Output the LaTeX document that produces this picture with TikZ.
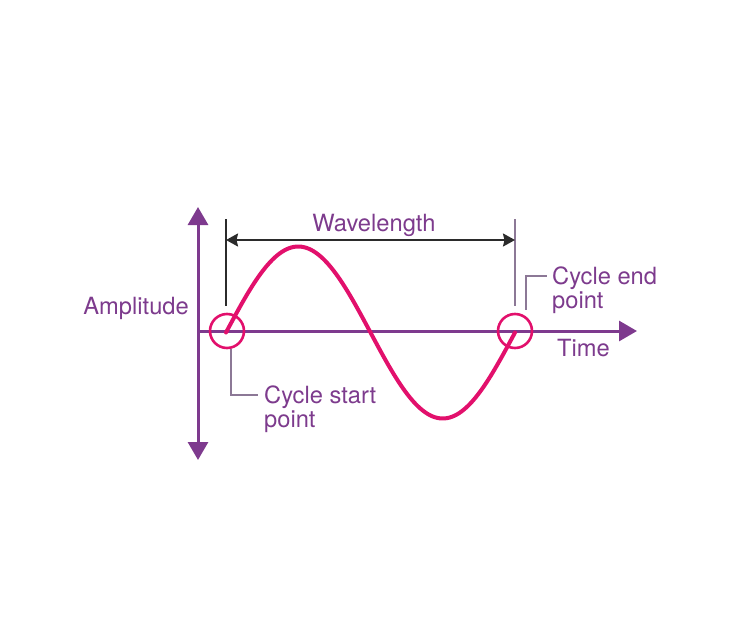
\documentclass[tikz,border=0pt]{standalone}
\usepackage{fontspec}
\setmainfont{TeX Gyre Heros}
\usetikzlibrary{arrows.meta}
\definecolor{axispurple}{HTML}{7E3A8E}
\definecolor{textpurple}{HTML}{7D3B8D}
\definecolor{wavemag}{HTML}{E2106C}
\definecolor{leadergray}{HTML}{8C7896}
\definecolor{darkline}{HTML}{2B2B2B}
\begin{document}
\begin{tikzpicture}[x=1pt,y=-1pt,
  axis/.style={draw=axispurple,line width=3pt,-{Triangle[length=18pt,width=20pt]}},
  wave/.style={draw=wavemag,line width=4pt},
  ring/.style={draw=wavemag,line width=2.6pt,circle,minimum size=34pt,inner sep=0pt},
  lbl/.style={text=textpurple,font=\fontsize{23.7}{23.5}\selectfont,inner sep=0pt},
  leader/.style={draw=leadergray,line width=1.4pt},
  tick/.style={line width=1.2pt},
  span/.style={draw=darkline,line width=2pt,{Stealth[length=12pt,width=13pt,inset=1.5pt]}-{Stealth[length=12pt,width=13pt,inset=1.5pt]}}
]
\useasboundingbox (0,0) rectangle (750,643);
% axes
\coordinate (o) at (198,331);
\coordinate (ytop) at (198,207);
\coordinate (ybot) at (198,460);
\coordinate (xend) at (637,331);
\draw[axis] (o) -- (ytop);
\draw[axis] (o) -- (ybot);
\draw[axis] (o) -- (xend);
% wavelength ticks
\coordinate (lt1) at (226,219);
\coordinate (lt2) at (226,306);
\coordinate (rt1) at (515,219);
\coordinate (rt2) at (515,306);
\draw[tick,draw=darkline] (lt1) -- (lt2);
\draw[tick,draw=leadergray] (rt1) -- (rt2);
\coordinate (wl) at (226,240);
\coordinate (wr) at (515,240);
\draw[span] (wl) -- (wr);
% sine wave
\draw[wave,line cap=round] plot[domain=0:360,samples=120] ({226+0.802778*\x},{332.5-86*sin(\x)});
% circles
\node[ring] (cs) at (227,331) {};
\node[ring] (ce) at (515,331) {};
% labels
\node[lbl,anchor=base] (wavelength) at (374,231) {Wavelength};
\node[lbl,anchor=base east] (amp) at (189,314) {Amplitude};
\node[lbl,anchor=base west] (time) at (557,356) {Time};
\node[lbl,anchor=base west,align=left] (start) at (264,427) {Cycle start\\point};
\node[lbl,anchor=base west,align=left] (end) at (552,308) {Cycle end\\point};
% leaders
\coordinate (sl) at (258,395);
\draw[leader] (cs.south) ++(4,0) |- (sl);
\coordinate (el) at (547,276);
\draw[leader] (ce.north) ++(11,-3) |- (el);
\end{tikzpicture}
\end{document}
